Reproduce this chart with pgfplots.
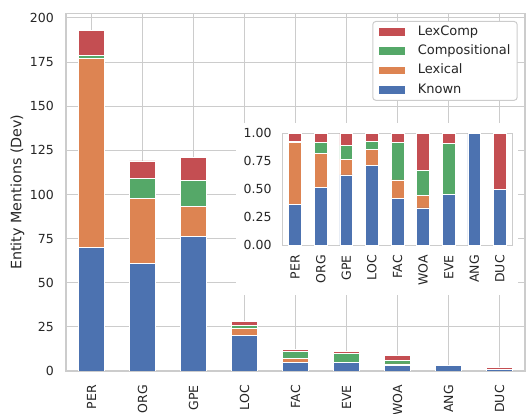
\documentclass[border=0pt]{standalone}
\usepackage{fontspec}
\setmainfont{DejaVu Sans}
\usepackage{pgfplots}
\pgfplotsset{compat=1.18}
\usepackage{pgfplotstable}

\definecolor{cKnown}{HTML}{4C72B0}
\definecolor{cLex}{HTML}{DD8452}
\definecolor{cComp}{HTML}{55A868}
\definecolor{cLexComp}{HTML}{C44E52}
\definecolor{gridgray}{HTML}{CCCCCC}
\definecolor{txt}{HTML}{262626}

% entity mentions per type (dev)
\pgfplotstableread{
x cat Known Lexical Compositional LexComp
0 PER 70 107 2 14
1 ORG 61 37 11 10
2 GPE 76 17 15 13
3 LOC 20 4 2 2
4 FAC 5 2 4 1
5 EVE 5 0 5 1
6 WOA 3 1 2 3
7 ANG 3 0 0 0
8 DUC 1 0 0 1
}\counts

% share of each class per type (inset, WOA before EVE)
\pgfplotstableread{
x cat Known Lexical Compositional LexComp
0 PER 0.3627 0.5544 0.0104 0.0725
1 ORG 0.5126 0.3109 0.0924 0.0840
2 GPE 0.6281 0.1405 0.1240 0.1074
3 LOC 0.7143 0.1429 0.0714 0.0714
4 FAC 0.4167 0.1667 0.3333 0.0833
5 WOA 0.3333 0.1111 0.2222 0.3333
6 EVE 0.4545 0.0000 0.4545 0.0909
7 ANG 1.0000 0.0000 0.0000 0.0000
8 DUC 0.5000 0.0000 0.0000 0.5000
}\shares

\pgfplotsset{
  seg/.style={fill=#1, draw=white, line width=0.8bp},
  common/.style={
    scale only axis,
    xmin=-0.5, xmax=8.5, ymin=0,
    ybar stacked, bar width=0.5,
    xtick={0,...,8},
    axis line style={gridgray, line width=1.25bp},
    major tick length=0pt,
    tick label style={font=\fontsize{12.5bp}{15bp}\selectfont, text=txt},
    /pgf/number format/assume math mode=true,
    xticklabel style={rotate=90, anchor=east, inner sep=0pt},
    yticklabel style={anchor=east, inner sep=0pt},
  },
}

\begin{document}
\begin{tikzpicture}
\useasboundingbox (0,0) rectangle (526bp,414bp);

\begin{axis}[common,
  at={(66bp,43bp)}, anchor=south west,
  width=459bp, height=357.7bp,
  ymax=202.65,
  xticklabels={PER,ORG,GPE,LOC,FAC,EVE,WOA,ANG,DUC},
  ytick={0,25,...,200},
  grid=major, major grid style={gridgray, line width=1bp},
  xticklabel shift=14bp, yticklabel shift=12bp,
  ylabel={Entity Mentions (Dev)},
  every axis y label/.style={at={(axis description cs:-0.1057,0.5)}, rotate=90,
    anchor=center, font=\fontsize{14.3bp}{17bp}\selectfont, text=txt},
  reverse legend,
  legend image code/.code={\fill[#1, draw=none, sharp corners] (0bp,-3.85bp) rectangle (25.7bp,3.85bp);},
  legend style={at={(0.984,0.9785)}, anchor=north east,
    draw=gridgray, line width=1bp, rounded corners=3bp, fill=white,
    font=\fontsize{13bp}{15bp}\selectfont, text=txt,
    inner xsep=6.6bp, inner ysep=4.5bp, row sep=7bp, column sep=12.7bp,
    nodes={inner sep=0pt, text height=9.5bp, text depth=2.7bp},
    cells={anchor=west}},
]
\addplot[seg=cKnown] table[x=x, y=Known] {\counts};
\addlegendentry{Known}
\addplot[seg=cLex] table[x=x, y=Lexical] {\counts};
\addlegendentry{Lexical}
\addplot[seg=cComp] table[x=x, y=Compositional] {\counts};
\addlegendentry{Compositional}
\addplot[seg=cLexComp] table[x=x, y=LexComp] {\counts};
\addlegendentry{LexComp}
\end{axis}

% white patch behind the inset
\fill[white] (236bp,119bp) rectangle (518bp,291.3bp);

\begin{axis}[common,
  at={(282.3bp,168.7bp)}, anchor=south west,
  width=230.4bp, height=112bp,
  ymax=1,
  axis background/.style={fill=white},
  xticklabels={PER,ORG,GPE,LOC,FAC,WOA,EVE,ANG,DUC},
  ytick={0,0.25,0.5,0.75,1}, yticklabels={0.00,0.25,0.50,0.75,1.00},
  xticklabel shift=9.7bp, yticklabel shift=10.6bp,
]
\addplot[seg=cKnown] table[x=x, y=Known] {\shares};
\addplot[seg=cLex] table[x=x, y=Lexical] {\shares};
\addplot[seg=cComp] table[x=x, y=Compositional] {\shares};
\addplot[seg=cLexComp] table[x=x, y=LexComp] {\shares};
\end{axis}
\end{tikzpicture}
\end{document}
